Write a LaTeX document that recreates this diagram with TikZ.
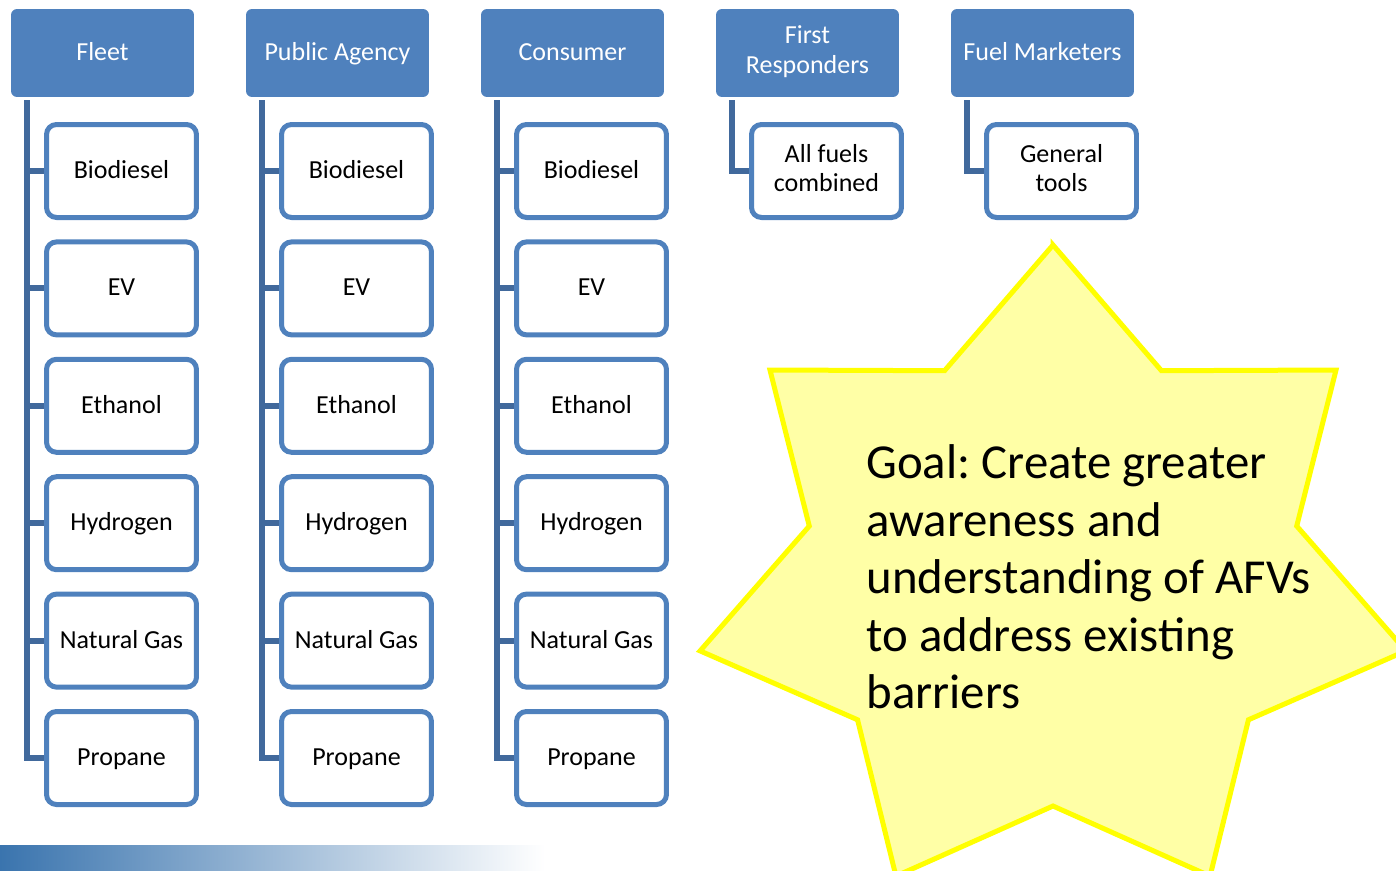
\documentclass[tikz,border=0pt]{standalone}
\usepackage{fontspec}
\setmainfont{Carlito}
\frenchspacing
\definecolor{headblue}{HTML}{4F81BD}
\definecolor{linkblue}{HTML}{41699C}
\definecolor{starline}{HTML}{FFFF00}
\definecolor{starfill}{HTML}{FFFFA6}
\definecolor{bandblue}{HTML}{3A74AE}
\definecolor{bandpale}{HTML}{A3C2DE}
\newcommand\labelstrut{\rule[-0.26em]{0pt}{1.1em}}
\tikzset{
  grouphead/.style={fill=headblue, rounded corners=0.12cm, minimum width=3.66cm, minimum height=1.76cm,
    inner sep=0pt, align=center, text=white, font=\fontsize{14.8}{17.2}\selectfont,
    execute at begin node=\labelstrut, execute at end node=\labelstrut},
  fuelbox/.style={draw=headblue, line width=0.1cm, fill=white, rounded corners=0.2cm, minimum width=3cm,
    minimum height=1.86cm, inner sep=0pt, align=center, font=\fontsize{14.8}{16.5}\selectfont,
    execute at begin node=\labelstrut, execute at end node=\labelstrut},
  branch/.style={draw=linkblue, line width=0.12cm}
}

\begin{document}
\begin{tikzpicture}[x=0.02cm, y=-0.02cm]
  \useasboundingbox (0,0) rectangle (1396,870);
  \clip (0,0) rectangle (1396,870);

  % strip along the bottom left
  \shade[left color=bandblue, middle color=bandpale, right color=white] (0,845) rectangle (545,870);

  % groups with one box per fuel
  \foreach \grp/\title [count=\c from 0] in {fleet/Fleet, agency/Public Agency, consumer/Consumer} {
    \node[grouphead] (\grp) at (102.5+235*\c, 53) {\title};
    \foreach \fuel [count=\k from 0] in {Biodiesel, EV, Ethanol, Hydrogen, Natural Gas, Propane}
      \node[fuelbox] (\grp-\k) at (121.5+235*\c, 171+117.4*\k) {\fuel};
    \foreach \k in {0,...,5}
      \draw[branch] ([xshift=0.32cm,yshift=-0.06cm]\grp.south west) |- (\grp-\k.west);
  }

  \node[grouphead] (responders) at (807.5,53) {First\\Responders};
  \node[fuelbox] (responders-0) at (826.5,171) {All fuels\\combined};
  \draw[branch] ([xshift=0.32cm,yshift=-0.06cm]responders.south west) |- (responders-0.west);

  \node[grouphead] (marketers) at (1042.5,53) {Fuel Marketers};
  \node[fuelbox] (marketers-0) at (1061.5,171) {General\\tools};
  \draw[branch] ([xshift=0.32cm,yshift=-0.06cm]marketers.south west) |- (marketers-0.west);

  % seven point star
  \begin{scope}[shift={(1053,577)}]
    \filldraw[fill=starfill, draw=starline, line width=0.1cm] (-90:362 and 332)
      \foreach \i in {1,...,7} { -- ({-90+51.4286*\i-25.7143}:250 and 229) -- ({-90+51.4286*\i}:362 and 332) } -- cycle;
  \end{scope}
  \node[anchor=west, align=left, inner sep=0pt, font=\fontsize{27.8}{32.7}\selectfont] (goal) at (866,577)
    {Goal: Create greater\\awareness and\\understanding of AFVs\\to address existing\\barriers};
\end{tikzpicture}
\end{document}
